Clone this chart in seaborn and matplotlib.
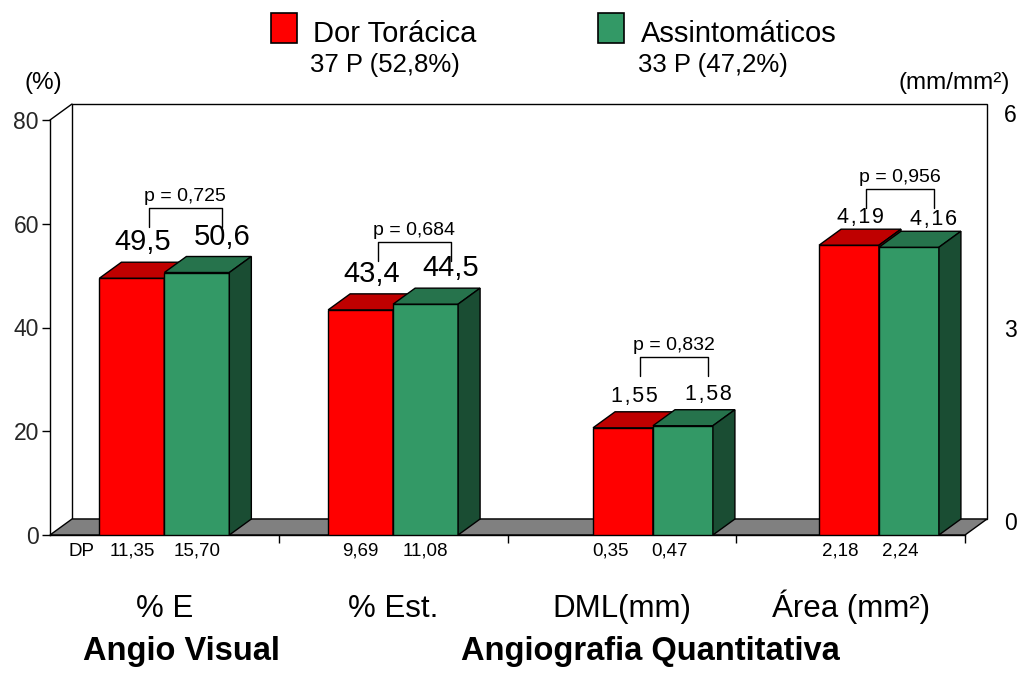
import matplotlib
matplotlib.use("Agg")
import matplotlib.pyplot as plt
import matplotlib.transforms as mtrans
from matplotlib.patches import Polygon, Rectangle
import pandas as pd
import seaborn as sns

# ---- data ----
categories = ["% E", "% Est.", "DML(mm)", "Área (mm²)"]
groups = ["Dor Torácica", "Assintomáticos"]
group_counts = ["37 P (52,8%)", "33 P (47,2%)"]

pct_categories = ["% E", "% Est."]
pct_dor = [49.5, 43.4]
pct_assint = [50.6, 44.5]

mm_categories = ["DML(mm)", "Área (mm²)"]
mm_dor = [1.55, 4.19]
mm_assint = [1.58, 4.16]

dp_dor = ["11,35", "9,69", "0,35", "2,18"]
dp_assint = ["15,70", "11,08", "0,47", "2,24"]
p_values = ["0,725", "0,684", "0,832", "0,956"]

left_ticks = [0, 20, 40, 60, 80]
right_ticks = [0, 3, 6]
sections = ["Angio Visual", "Angiografia Quantitativa"]

# ---- style ----
RED, RED_TOP, RED_SIDE = "#ff0000", "#bf0000", "#800000"
GREEN, GREEN_TOP, GREEN_SIDE = "#339966", "#26734c", "#1a4d33"
DX, DY = 22, 16            # depth of the pseudo-3D extrusion, in pixels
BAR_W = [0.284, 0.284, 0.262, 0.262]
SHIFT = [0.0, 0.0, 0.136, 0.124]
BRACKET_UP = [49, 46, 53, 40]     # bracket height above the taller bar, px
VALUE_FS = [21, 21, 15.5, 15.5]
VALUE_GAP = [6, 6, 5, 1]
DP_NUDGE = [0, 0, -13, -9]
RIGHT_NUDGE = [11, -3, 5]

sns.set_theme(style="white")
plt.rcParams["font.family"] = ["Liberation Sans", "DejaVu Sans"]
plt.rcParams["text.color"] = "black"

W, H = 1026, 673
fig = plt.figure(figsize=(W / 100, H / 100), dpi=100)
ax = fig.add_axes([50 / W, 138 / H, 915 / W, 415 / H])
ax2 = ax.twinx()

df_pct = pd.DataFrame({
    "categoria": pct_categories * 2,
    "grupo": [groups[0]] * len(pct_dor) + [groups[1]] * len(pct_assint),
    "valor": pct_dor + pct_assint,
})
df_mm = pd.DataFrame({
    "categoria": mm_categories * 2,
    "grupo": [groups[0]] * len(mm_dor) + [groups[1]] * len(mm_assint),
    "valor": mm_dor + mm_assint,
})

common = dict(x="categoria", y="valor", hue="grupo", order=categories,
              hue_order=groups, palette=[RED, GREEN], saturation=1,
              edgecolor="black", linewidth=1, legend=False, errorbar=None,
              width=0.57)
sns.barplot(data=df_pct, ax=ax, **common)
sns.barplot(data=df_mm, ax=ax2, **common)

ax.set_xlim(-0.5, 3.5)
ax.set_ylim(0, 80)
ax2.set_ylim(0, 6)
for a in (ax, ax2):
    a.set_xlabel("")
    a.set_ylabel("")
    a.grid(False)


def to_data(axis, pts):
    return axis.transData.inverted().transform(pts)


# ---- frame: back wall, floor, spines ----
(fx0, fy0), (fx1, fy1) = ax.transData.transform([(-0.5, 0), (3.5, 80)])
wall = [(fx0 + DX, fy0 + DY), (fx1 + DX, fy0 + DY), (fx1 + DX, fy1 + DY), (fx0 + DX, fy1 + DY)]
ax.add_patch(Polygon(to_data(ax, wall), closed=True, fc="white", ec="black",
                     lw=1, zorder=0.5, clip_on=False))
floor = [(fx0, fy0), (fx1, fy0), (fx1 + DX, fy0 + DY), (fx0 + DX, fy0 + DY)]
ax.add_patch(Polygon(to_data(ax, floor), closed=True, fc="#808080", ec="black",
                     lw=1, zorder=0.6, clip_on=False))
ax.add_line(plt.Line2D(*zip(*to_data(ax, [(fx0, fy1), (fx0 + DX, fy1 + DY)])),
                       color="black", lw=1, clip_on=False))

for a in (ax, ax2):
    for s in a.spines.values():
        s.set_visible(False)
for s in ("left", "bottom"):
    ax.spines[s].set_visible(True)
    ax.spines[s].set_color("black")
    ax.spines[s].set_linewidth(1)
    ax.spines[s].set_zorder(2)

ax.set_yticks(left_ticks)
ax.set_yticklabels([str(t) for t in left_ticks])
ax.tick_params(axis="y", which="major", left=True, direction="out", length=6,
               width=1, color="black", labelsize=16.5, pad=2)
ax.set_xticks([0.5, 1.5, 2.5, 3.5])
ax.set_xticklabels([])
ax.tick_params(axis="x", which="major", bottom=True, direction="out", length=6,
               width=1, color="black")

# category names below the floor
cat_tr = mtrans.offset_copy(ax.get_xaxis_transform(), fig=fig, x=0, y=-82, units="dots")
for i, name in enumerate(categories):
    ax.text(i, 0, name, fontsize=22.5, ha="center", va="baseline", transform=cat_tr)

ax2.set_yticks(right_ticks)
ax2.set_yticklabels([])
ax2.tick_params(axis="y", length=0, right=False)
for t, nudge in zip(right_ticks, RIGHT_NUDGE):
    ax2.text(1, t, str(t), fontsize=16.5, ha="left", va="center",
             transform=mtrans.offset_copy(ax2.get_yaxis_transform(), fig=fig,
                                          x=39, y=nudge, units="dots"))

# ---- bars: place, extrude, annotate ----
bar_rgb = (matplotlib.colors.to_rgb(RED), matplotlib.colors.to_rgb(GREEN))
bars = {}  # (category index, group index) -> (axis, patch)
for a in (ax, ax2):
    for patch in a.patches:
        if patch.get_facecolor()[:3] not in bar_rgb or patch.get_height() == 0:
            continue
        center = patch.get_x() + patch.get_width() / 2
        c = int(round(center))
        h = 0 if center < c else 1
        w = BAR_W[c]
        patch.set_x(c + SHIFT[c] + (h - 1) * w)
        patch.set_width(w)
        patch.set_zorder(3 + h)
        bars[(c, h)] = (a, patch)

tops = [RED_TOP, GREEN_TOP]
sides = [RED_SIDE, GREEN_SIDE]
label_anchor = {}
for (c, h), (a, patch) in sorted(bars.items()):
    x0, y1 = patch.get_x(), patch.get_height()
    x1 = x0 + patch.get_width()
    (px0, py0), (px1, py1) = a.transData.transform([(x0, 0), (x1, y1)])
    top = [(px0, py1), (px1, py1), (px1 + DX, py1 + DY), (px0 + DX, py1 + DY)]
    side = [(px1, py0), (px1, py1), (px1 + DX, py1 + DY), (px1 + DX, py0 + DY)]
    a.add_patch(Polygon(to_data(a, top), closed=True, fc=tops[h], ec="black",
                        lw=1, zorder=3 + h + 0.1, clip_on=False))
    a.add_patch(Polygon(to_data(a, side), closed=True, fc=sides[h], ec="black",
                        lw=1, zorder=3 + h + 0.1, clip_on=False))
    # value label above the bar
    lx = (px0 + px1) / 2 + DX / 2 + (14 if h == 1 else 0)
    ly = py1 + DY + VALUE_GAP[c]
    if a is ax2:
        txt = "\u200a".join(f"{y1:.2f}".replace(".", ","))
    else:
        txt = f"{y1:.1f}".replace(".", ",")
    a.text(*to_data(a, [(lx, ly)])[0], txt, fontsize=VALUE_FS[c], ha="center",
           va="bottom", zorder=10, clip_on=False)
    label_anchor[(c, h)] = (lx, py1 + DY)
    # standard deviation row
    dp = (dp_dor if h == 0 else dp_assint)[c]
    ax.text((x0 + x1) / 2, 0, dp, fontsize=13.5, ha="center", va="center",
            transform=mtrans.offset_copy(ax.transData, fig=fig,
                                         x=DP_NUDGE[c], y=-16, units="dots"))

first_red = bars[(0, 0)][1]
ax.text(first_red.get_x() + first_red.get_width() / 2, 0, "DP", fontsize=13.5,
        ha="center", va="center",
        transform=mtrans.offset_copy(ax.transData, fig=fig, x=-50, y=-16, units="dots"))

# p-value brackets
for c in range(len(categories)):
    (xa, ya), (xb, yb) = label_anchor[(c, 0)], label_anchor[(c, 1)]
    ytop = max(ya, yb) + BRACKET_UP[c]
    pts = [(xa + 6, ytop - 19), (xa + 6, ytop), (xb, ytop), (xb, ytop - 19)]
    a = bars[(c, 0)][0]
    d = to_data(a, pts)
    a.plot(d[:, 0], d[:, 1], color="black", lw=1, clip_on=False, zorder=10)
    xm, ym = to_data(a, [((xa + 6 + xb) / 2, ytop + 3)])[0]
    a.text(xm, ym, f"p = {p_values[c]}", fontsize=14, ha="center", va="bottom",
           clip_on=False, zorder=10)

ax.set_xlim(-0.5, 3.5)


# ---- legend and free-standing labels (figure pixels, origin top-left) ----
def fx(x):
    return x / W


def fy(y):
    return 1 - y / H


legend_layout = [(271, 313, 310), (598, 641, 638)]
for (sq, tx, nx), name, cnt, col in zip(legend_layout, groups, group_counts, [RED, GREEN]):
    fig.patches.append(Rectangle((fx(sq), fy(43)), 26 / W, 30 / H, fc=col, ec="black",
                                 lw=1.2, transform=fig.transFigure, figure=fig))
    fig.text(fx(tx), fy(42), name, fontsize=21, ha="left", va="baseline")
    fig.text(fx(nx), fy(72), cnt, fontsize=18.5, ha="left", va="baseline")

fig.text(fx(25), fy(89), "(%)", fontsize=17.5, ha="left", va="baseline")
fig.text(fx(898), fy(89), "(mm/mm²)", fontsize=17.5, ha="left", va="baseline")
fig.text(fx(181), fy(660), sections[0], fontsize=23.5, fontweight="bold",
         ha="center", va="baseline")
fig.text(fx(650), fy(660), sections[1], fontsize=23.5, fontweight="bold",
         ha="center", va="baseline")

fig.savefig("out.png", dpi=100, facecolor="white")
